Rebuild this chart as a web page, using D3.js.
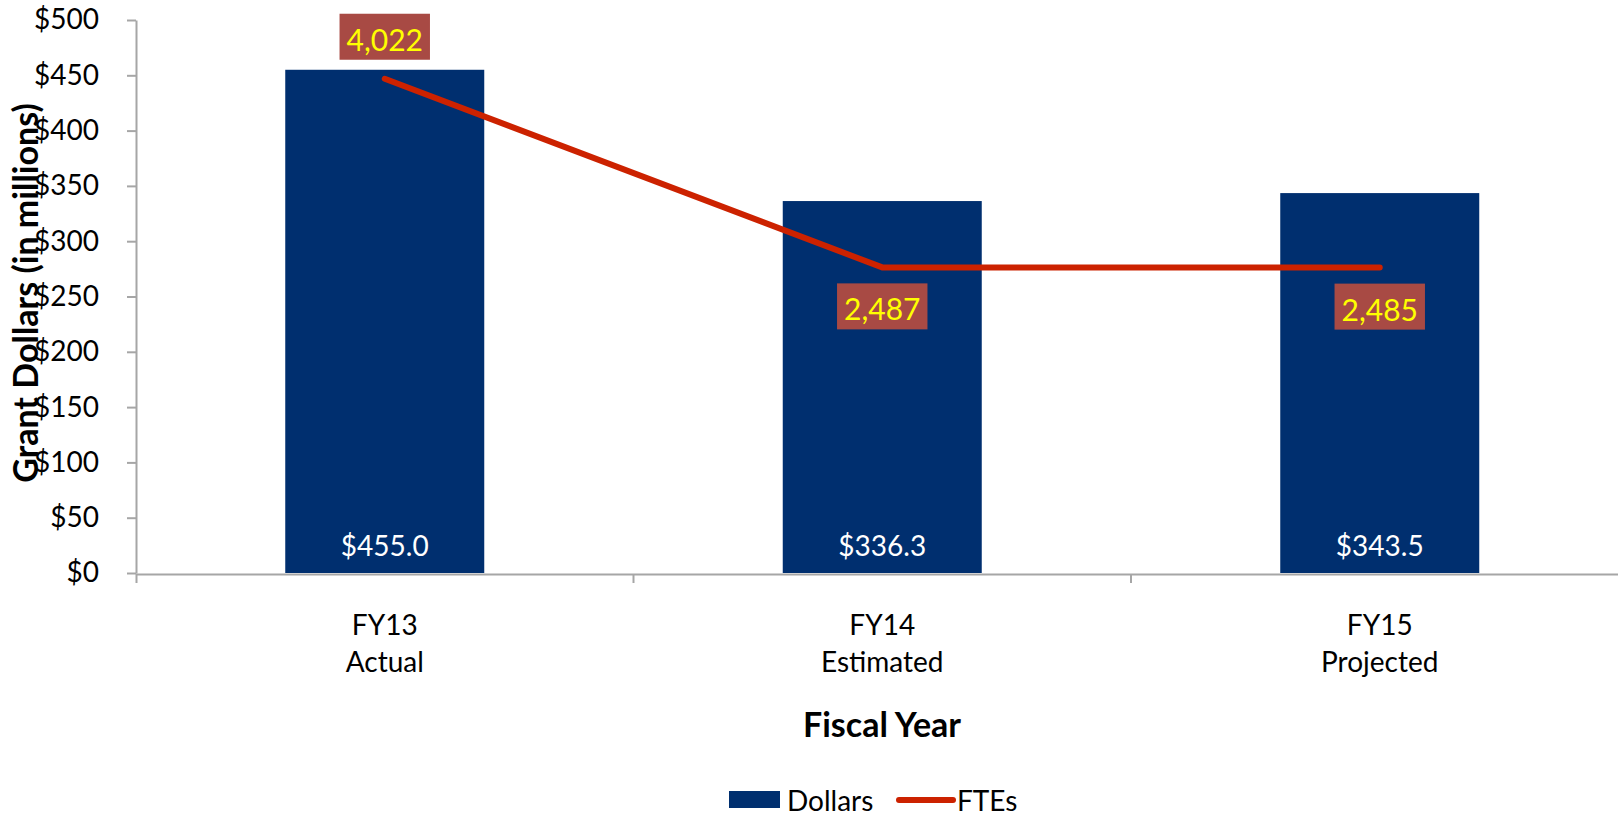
<!DOCTYPE html>
<html>
<head>
<meta charset="utf-8">
<script src="https://cdn.jsdelivr.net/npm/d3@7"></script>
<style>
  body { margin: 0; background: #fff; }
  svg { display: block; font-family: Lato, "Open Sans", sans-serif; }
  .axis path, .axis line { stroke: #a6a6a6; stroke-width: 2; }
</style>
</head>
<body>
<script>
// datos de la gráfica
var fyLabels = ["FY13", "FY14", "FY15"];
var fyTypes = ["Actual", "Estimated", "Projected"];
var dollars = [455.0, 336.3, 343.5];
var ftes = [4022, 2487, 2485];
var yTicks = [0, 50, 100, 150, 200, 250, 300, 350, 400, 450, 500];

var width = 1618, height = 816,
    plotLeft = 136, plotTop = 20, plotBottom = 573,
    barColor = "#002f6f",
    lineColor = "#cc2200",
    boxColor = "#a84a44";

var svg = d3.select("body").append("svg")
  .attr("width", width)
  .attr("height", height);

// escalas
var x = d3.scaleBand()
  .domain(fyLabels)
  .range([plotLeft, plotLeft + 3 * 497.5])
  .padding(0);

var y = d3.scaleLinear().domain([0, 500]).range([plotBottom, plotTop]);
var y2 = d3.scaleLinear().domain([0, 4500]).range([plotBottom, plotTop]);

var bw = x.bandwidth();

// barras
svg.append("g")
  .selectAll("rect")
  .data(dollars)
  .enter()
  .append("rect")
  .attr("x", function(d, i) { return x(fyLabels[i]) + bw * 0.3; })
  .attr("y", function(d) { return y(d); })
  .attr("width", bw * 0.4)
  .attr("height", function(d) { return y(0) - y(d); })
  .attr("fill", barColor);

// etiquetas de las barras
svg.append("g")
  .selectAll("text")
  .data(dollars)
  .enter()
  .append("text")
  .attr("x", function(d, i) { return x(fyLabels[i]) + bw / 2; })
  .attr("y", y(0) - 17)
  .attr("text-anchor", "middle")
  .attr("fill", "#fff")
  .style("font-size", "28px")
  .text(function(d) { return "$" + d.toFixed(1); });

// eje Y
svg.append("g")
  .attr("class", "axis")
  .attr("transform", "translate(" + plotLeft + ",0)")
  .call(d3.axisLeft(y)
    .tickValues(yTicks)
    .tickSize(9)
    .tickSizeOuter(0)
    .tickPadding(28)
    .tickFormat(function(d) { return "$" + d; }))
  .call(function(g) {
    g.selectAll("text").attr("fill", "#000").style("font-size", "28px").style("font-family", "Lato");
  });

// eje X
var xAxis = svg.append("g")
  .attr("class", "axis")
  .attr("transform", "translate(0," + (plotBottom + 1) + ")")
  .call(d3.axisBottom(x).tickSize(0).tickSizeOuter(9).tickFormat(""));

// marcas en los límites de categoría
xAxis.selectAll(".bound")
  .data(fyLabels.slice(1))
  .enter()
  .append("line")
  .attr("class", "bound")
  .attr("x1", function(d) { return x(d); })
  .attr("x2", function(d) { return x(d); })
  .attr("y1", 0)
  .attr("y2", 9);

// etiquetas de categoría
var cat = svg.append("g")
  .selectAll("text")
  .data(fyLabels)
  .enter()
  .append("text")
  .attr("text-anchor", "middle")
  .attr("fill", "#000")
  .style("font-size", "28px");

cat.append("tspan")
  .attr("x", function(d) { return x(d) + bw / 2; })
  .attr("y", 635)
  .text(function(d) { return d; });

cat.append("tspan")
  .attr("x", function(d) { return x(d) + bw / 2; })
  .attr("y", 671.5)
  .text(function(d, i) { return fyTypes[i]; });

// títulos de ejes
svg.append("text")
  .attr("text-anchor", "middle")
  .attr("x", 882)
  .attr("y", 737)
  .style("font-size", "34px")
  .style("font-weight", "bold")
  .text("Fiscal Year");

svg.append("text")
  .attr("text-anchor", "middle")
  .attr("transform", "translate(38,293) rotate(-90)")
  .style("font-size", "34px")
  .style("font-weight", "bold")
  .text("Grant Dollars (in millions)");

// línea de FTEs
svg.append("path")
  .datum(ftes)
  .attr("fill", "none")
  .attr("stroke", lineColor)
  .attr("stroke-width", 6)
  .attr("stroke-linecap", "round")
  .attr("stroke-linejoin", "round")
  .attr("d", d3.line()
    .x(function(d, i) { return x(fyLabels[i]) + bw / 2; })
    .y(function(d) { return y2(d); }));

// etiquetas de FTEs
var lab = svg.append("g")
  .selectAll("g")
  .data(ftes)
  .enter()
  .append("g");

lab.each(function(d, i) {
  var g = d3.select(this);
  var cx = x(fyLabels[i]) + bw / 2;
  var py = y2(d);
  var boxTop = i === 0 ? py - 19 - 46 : py + 16;
  var rect = g.append("rect").attr("fill", boxColor);
  var t = g.append("text")
    .attr("x", cx)
    .attr("y", boxTop + 37)
    .attr("text-anchor", "middle")
    .attr("fill", "#ffff00")
    .style("font-size", "30px")
    .text(d3.format(",")(d));
  var w = t.node().getBBox().width + 14;
  rect.attr("x", cx - w / 2).attr("y", boxTop).attr("width", w).attr("height", 46);
});

// leyenda
var legend = svg.append("g");
legend.append("rect")
  .attr("x", 729).attr("y", 791)
  .attr("width", 51).attr("height", 17)
  .attr("fill", barColor);
legend.append("text")
  .attr("x", 787).attr("y", 811)
  .style("font-size", "28px")
  .text("Dollars");
legend.append("line")
  .attr("x1", 899).attr("x2", 953)
  .attr("y1", 800).attr("y2", 800)
  .attr("stroke", lineColor)
  .attr("stroke-width", 6)
  .attr("stroke-linecap", "round");
legend.append("text")
  .attr("x", 957).attr("y", 811)
  .style("font-size", "28px")
  .text("FTEs");
</script>
</body>
</html>
